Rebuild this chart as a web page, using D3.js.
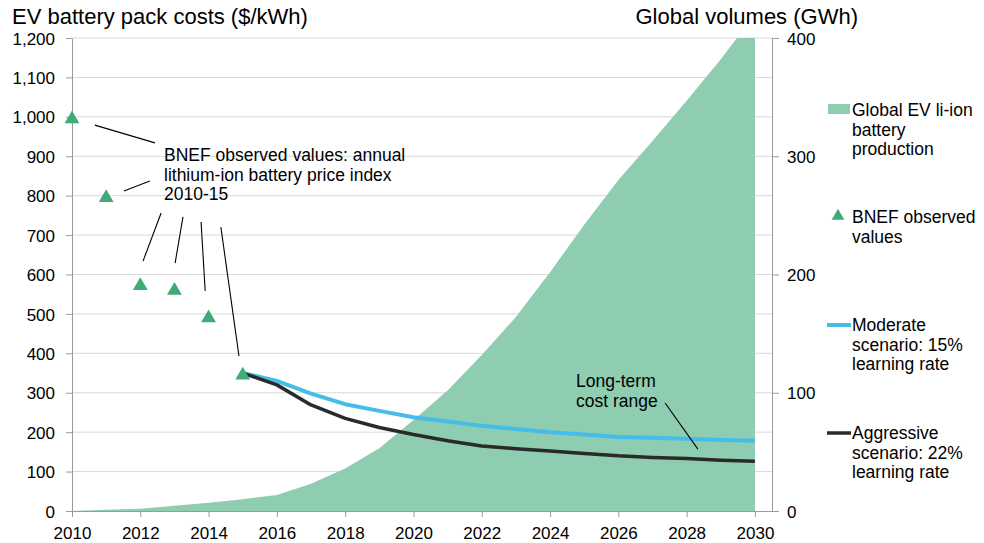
<!DOCTYPE html>
<html>
<head>
<meta charset="utf-8">
<script src="https://cdn.jsdelivr.net/npm/d3@7"></script>
<style>
  body { margin: 0; background: #fff; }
  text { font-family: "Liberation Sans", Arial, sans-serif; fill: #000; }
</style>
</head>
<body>
<div id="chart"></div>
<script>
// data
const years = d3.range(2010, 2031);
const volumes = [0, 1, 2, 4.5, 7, 10, 13.5, 23, 36, 53, 77, 102, 132, 164, 202, 242, 280, 313, 347, 382, 420];
const obsYears = [2010, 2011, 2012, 2013, 2014, 2015];
const observed = [1000, 800, 577, 565, 495, 350];
const scenYears = d3.range(2015, 2031);
const moderate = [350, 330, 298, 271, 254, 238, 227, 216, 208, 200, 194, 188, 186, 183, 180, 178];
const aggressive = [350, 320, 269, 235, 212, 194, 178, 165, 158, 152, 146, 140, 136, 133, 129, 126];
const costTicks = d3.range(0, 1201, 100);
const volTicks = [0, 100, 200, 300, 400];
const yearTicks = d3.range(2010, 2031, 2);

// leader lines for the annotations, in data units [year, $/kWh]
const bnefLeaders = [
  [[2010.67, 979], [2012.43, 934]],
  [[2012.28, 837], [2011.52, 812]],
  [[2012.61, 756], [2012.08, 634]],
  [[2013.25, 746], [2013.02, 629]],
  [[2013.78, 733], [2013.90, 558]],
  [[2014.36, 720], [2014.89, 393]]
];
const rangeLeader = [[2027.37, 274], [2028.33, 157]];

const width = 984, height = 543;
const margin = {top: 38, right: 212, bottom: 32, left: 72};

const svg = d3.select("#chart").append("svg")
  .attr("width", width)
  .attr("height", height);

const x = d3.scaleLinear().domain([2010, 2030.5]).range([margin.left, width - margin.right]);
const yL = d3.scaleLinear().domain([0, 1200]).range([height - margin.bottom, margin.top]);
const yR = d3.scaleLinear().domain([0, 400]).range([height - margin.bottom, margin.top]);

const fmt = d3.format(",");
const fs = "17.5px";

svg.append("defs").append("clipPath").attr("id", "plot")
  .append("rect")
  .attr("x", margin.left).attr("y", margin.top)
  .attr("width", width - margin.left - margin.right)
  .attr("height", height - margin.top - margin.bottom);

// gridlines
svg.append("g")
  .selectAll("line")
  .data(costTicks.filter(d => d > 0))
  .join("line")
  .attr("x1", x(2010)).attr("x2", x(2030.5))
  .attr("y1", d => yL(d)).attr("y2", d => yL(d))
  .attr("stroke", "#d9d9d9").attr("stroke-width", 1);

// volume area
const area = d3.area()
  .x((d, i) => x(years[i]))
  .y0(yR(0))
  .y1(d => yR(d));
svg.append("path")
  .datum(volumes)
  .attr("clip-path", "url(#plot)")
  .attr("fill", "#8ecdb0")
  .attr("d", area);

// axes
const axisColor = "#9a9a9a";
const gx = svg.append("g")
  .attr("transform", "translate(0," + yL(0) + ")")
  .call(d3.axisBottom(x).tickValues(yearTicks).tickFormat(d3.format("d")).tickSize(6).tickSizeOuter(0));
const gl = svg.append("g")
  .attr("transform", "translate(" + x(2010) + ",0)")
  .call(d3.axisLeft(yL).tickValues(costTicks).tickFormat(fmt).tickSize(6).tickSizeOuter(0));
const gr = svg.append("g")
  .attr("transform", "translate(" + x(2030.5) + ",0)")
  .call(d3.axisRight(yR).tickValues(volTicks).tickSize(7).tickSizeOuter(0));

[gx, gl, gr].forEach(g => {
  g.select(".domain").attr("stroke", axisColor);
  g.selectAll(".tick line").attr("stroke", axisColor);
  g.selectAll(".tick text")
    .style("font-family", '"Liberation Sans", Arial, sans-serif')
    .style("font-size", "17px")
    .attr("fill", "#000");
});
gx.selectAll(".tick text").attr("dy", null).attr("y", 28);
gl.selectAll(".tick text").attr("x", -17).attr("dy", "0.36em");
gr.selectAll(".tick text").attr("x", 15).attr("dy", "0.36em");

// scenario lines
const line = d3.line()
  .x((d, i) => x(scenYears[i]))
  .y(d => yL(d));
svg.append("path").datum(moderate)
  .attr("fill", "none").attr("stroke", "#45bde8").attr("stroke-width", 4)
  .attr("stroke-linejoin", "round")
  .attr("d", line);
svg.append("path").datum(aggressive)
  .attr("fill", "none").attr("stroke", "#2a2a2a").attr("stroke-width", 3.5)
  .attr("stroke-linejoin", "round")
  .attr("d", line);

// observed values (triangle centred on its bounding box, like the original)
const triSize = 95;
const triShift = Math.sqrt(triSize / (Math.sqrt(3) * 3)) / 2;
const tri = d3.symbol(d3.symbolTriangle, triSize);
svg.append("g")
  .selectAll("path")
  .data(observed)
  .join("path")
  .attr("d", tri)
  .attr("fill", "#3fab79")
  .attr("transform", (d, i) => "translate(" + x(obsYears[i]) + "," + (yL(d) + triShift) + ")");

// annotations
const seg = d3.line().x(d => x(d[0])).y(d => yL(d[1]));
svg.append("g")
  .selectAll("path")
  .data(bnefLeaders.concat([rangeLeader]))
  .join("path")
  .attr("d", seg)
  .attr("stroke", "#000").attr("stroke-width", 1.1).attr("fill", "none");

function multiline(g, xPos, yPos, lines, anchor) {
  const t = g.append("text")
    .attr("x", xPos).attr("y", yPos)
    .attr("text-anchor", anchor || "start")
    .style("font-size", fs);
  lines.forEach((l, i) => {
    t.append("tspan").attr("x", xPos).attr("dy", i === 0 ? 0 : 19.7).text(l);
  });
  return t;
}

multiline(svg, 164, 161, ["BNEF observed values: annual", "lithium-ion battery price index", "2010-15"]);
multiline(svg, 576, 387, ["Long-term", "cost range"]);

// titles
svg.append("text").attr("x", 12).attr("y", 24)
  .style("font-size", "22px").text("EV battery pack costs ($/kWh)");
svg.append("text").attr("x", 858).attr("y", 24).attr("text-anchor", "end")
  .style("font-size", "22px").text("Global volumes (GWh)");

// legend
const lg = svg.append("g");
lg.append("rect").attr("x", 828).attr("y", 104).attr("width", 22).attr("height", 10).attr("fill", "#8ecdb0");
multiline(lg, 852, 116, ["Global EV li-ion", "battery", "production"]);

lg.append("path").attr("d", d3.symbol(d3.symbolTriangle, 70))
  .attr("fill", "#3fab79").attr("transform", "translate(838,216)");
multiline(lg, 852, 223, ["BNEF observed", "values"]);

lg.append("line").attr("x1", 827).attr("x2", 851).attr("y1", 325).attr("y2", 325)
  .attr("stroke", "#45bde8").attr("stroke-width", 4);
multiline(lg, 852, 331, ["Moderate", "scenario: 15%", "learning rate"]);

lg.append("line").attr("x1", 827).attr("x2", 851).attr("y1", 433).attr("y2", 433)
  .attr("stroke", "#2a2a2a").attr("stroke-width", 3.5);
multiline(lg, 852, 439, ["Aggressive", "scenario: 22%", "learning rate"]);
</script>
</body>
</html>
